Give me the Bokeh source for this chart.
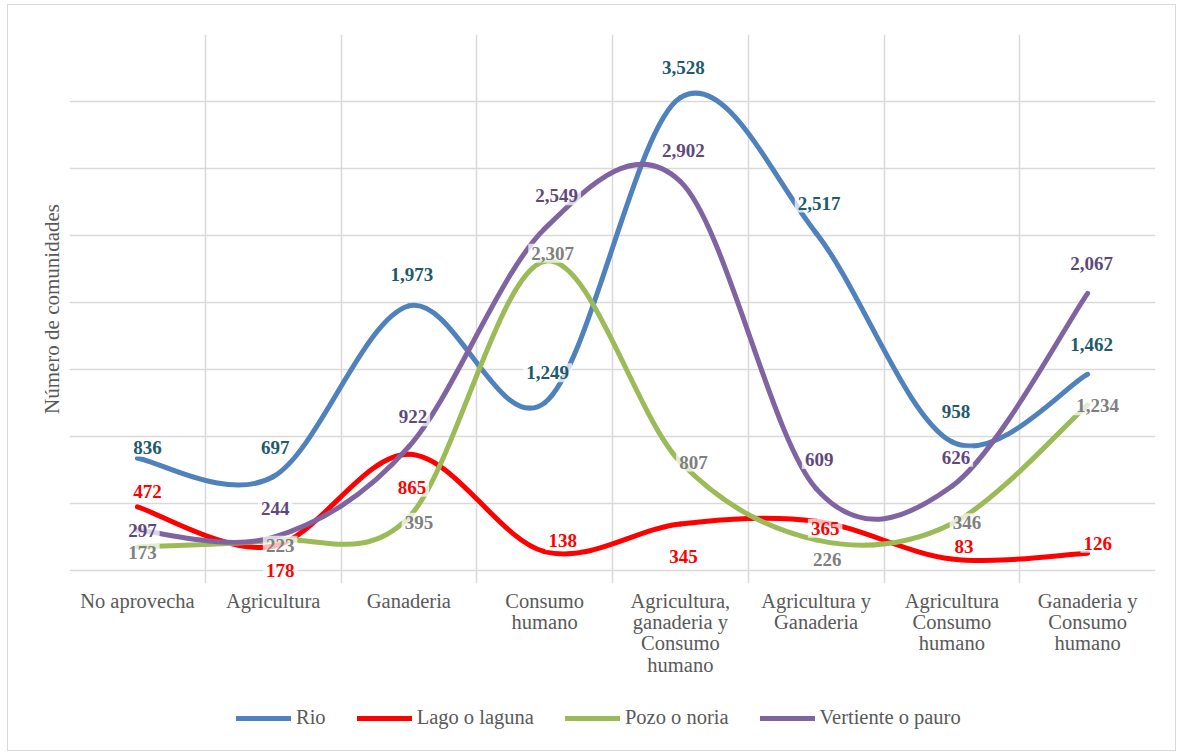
from bokeh.plotting import figure
from bokeh.layouts import column
from bokeh.models import FixedTicker, Legend, LegendItem, ColumnDataSource
from bokeh.core.properties import value
from bokeh.embed import file_html
from bokeh.resources import INLINE

# ---------------- data ----------------
categories = ["No aprovecha", "Agricultura", "Ganaderia", "Consumo humano",
              "Agricultura, ganaderia y Consumo humano", "Agricultura y Ganaderia",
              "Agricultura Consumo humano", "Ganaderia y Consumo humano"]
tick_labels = ["No aprovecha", "Agricultura", "Ganaderia", "Consumo\nhumano",
               "Agricultura,\nganaderia y\nConsumo\nhumano", "Agricultura y\nGanaderia",
               "Agricultura\nConsumo\nhumano", "Ganaderia y\nConsumo\nhumano"]
series_names = ["Rio", "Lago o laguna", "Pozo o noria", "Vertiente o pauro"]
rio = [836, 697, 1973, 1249, 3528, 2517, 958, 1462]
lago = [472, 178, 865, 138, 345, 365, 83, 126]
pozo = [173, 223, 395, 2307, 807, 226, 346, 1234]
vertiente = [297, 244, 922, 2549, 2902, 609, 626, 2067]
y_ticks = [0, 500, 1000, 1500, 2000, 2500, 3000, 3500, 4000]

# ---------------- styles ----------------
line_colors = ["#4F81BD", "#FF0000", "#9BBB59", "#8064A2"]
label_colors = ["#215A69", "#FF0000", "#7F7F7F", "#5F497A"]
# label offsets in screen pixels (dx right, dy down)
label_offsets = [
    [(10, -11), (2, -29), (3, -31), (3, -30), (3, -30), (3, -30), (4, -30), (4, -30)],
    [(10, -15), (7, 24), (3, 33), (18, -11), (3, 33), (9, 7), (12, -12), (10, -10)],
    [(5, 6), (7, 5), (10, 5), (8, -8), (13, 0), (11, 20), (15, -1), (10, 1)],
    [(5, 0), (2, -29), (4, -30), (12, -33), (3, -31), (3, -29), (4, -29), (4, -30)],
]
SERIF = "Liberation Serif"
GRID = "#d9d9d9"
TXT = "#595959"

p = figure(width=1167, height=685, x_range=(0, 8), y_range=(-100, 4000),
           output_backend="svg", toolbar_location=None,
           min_border_left=61, min_border_right=20, min_border_top=29, min_border_bottom=107,
           background_fill_color="white", border_fill_color="white")
p.outline_line_color = None

xs = [i + 0.5 for i in range(len(categories))]

def bezier_segments(vals):
    n = len(vals)
    pts = list(zip(xs, vals))
    d = dict(x0=[], y0=[], x1=[], y1=[], cx0=[], cy0=[], cx1=[], cy1=[])
    for i in range(n - 1):
        pm = pts[max(i - 1, 0)]
        p0 = pts[i]
        p1 = pts[i + 1]
        p2_ = pts[min(i + 2, n - 1)]
        d["x0"].append(p0[0]); d["y0"].append(p0[1])
        d["x1"].append(p1[0]); d["y1"].append(p1[1])
        d["cx0"].append(p0[0] + (p1[0] - pm[0]) / 6.0)
        d["cy0"].append(p0[1] + (p1[1] - pm[1]) / 6.0)
        d["cx1"].append(p1[0] - (p2_[0] - p0[0]) / 6.0)
        d["cy1"].append(p1[1] - (p2_[1] - p0[1]) / 6.0)
    return d

all_series = [rio, lago, pozo, vertiente]
sources = []
for vals, col in zip(all_series, line_colors):
    src = ColumnDataSource(bezier_segments(vals))
    sources.append(src)
    p.bezier(x0="x0", y0="y0", x1="x1", y1="y1", cx0="cx0", cy0="cy0", cx1="cx1", cy1="cy1",
             source=src, line_color=col, line_width=5, line_cap="round")

# data labels on top
for vals, col, offs in zip(all_series, label_colors, label_offsets):
    src = ColumnDataSource(dict(
        x=xs, y=vals, t=[f"{v:,}" for v in vals],
        dx=[o[0] for o in offs], dy=[o[1] for o in offs]))
    p.text(x="x", y="y", text="t", x_offset="dx", y_offset="dy", source=src,
           text_font=value(SERIF), text_font_style="bold", text_font_size="19px",
           text_color=col, text_align="center", text_baseline="middle",
           background_fill_color="white", background_fill_alpha=0.72,
           border_line_color=None, padding=3)

# axes
p.xaxis.ticker = FixedTicker(ticks=xs)
p.xaxis.major_label_overrides = {x: lab for x, lab in zip(xs, tick_labels)}
p.xaxis.major_label_text_font = SERIF
p.xaxis.major_label_text_font_size = "20.5px"
p.xaxis.major_label_text_color = TXT
p.xaxis.major_label_text_line_height = 0.97
p.xaxis.major_label_standoff = 0
p.xaxis.major_tick_line_color = None
p.xaxis.minor_tick_line_color = None
p.xaxis.axis_line_color = None

p.yaxis.ticker = FixedTicker(ticks=y_ticks)
p.yaxis.major_label_text_font_size = "0px"
p.yaxis.major_label_standoff = 0
p.yaxis.major_tick_line_color = None
p.yaxis.minor_tick_line_color = None
p.yaxis.axis_line_color = None
p.yaxis.axis_label = "Número de comunidades"
p.yaxis.axis_label_text_font = SERIF
p.yaxis.axis_label_text_font_style = "normal"
p.yaxis.axis_label_text_font_size = "21px"
p.yaxis.axis_label_text_color = TXT
p.yaxis.axis_label_standoff = 0

p.xgrid.ticker = FixedTicker(ticks=list(range(9)))
p.xgrid.bounds = (0, 4000)
p.ygrid.ticker = FixedTicker(ticks=y_ticks)
for g in (p.xgrid, p.ygrid):
    g.grid_line_color = GRID
    g.grid_line_width = 1.5

# ---------------- legend strip ----------------
p2 = figure(width=1167, height=60, x_range=(0, 1), y_range=(10000, 10001),
            output_backend="svg", toolbar_location=None, min_border=0,
            x_axis_type=None, y_axis_type=None,
            background_fill_color="white", border_fill_color="white")
p2.outline_line_color = None
p2.grid.visible = False
legend_items = []
for src, col, name in zip(sources, line_colors, series_names):
    r = p2.bezier(x0="x0", y0="y0", x1="x1", y1="y1", cx0="cx0", cy0="cy0", cx1="cx1", cy1="cy1",
                  source=src, line_color=col, line_width=5, line_cap="round")
    legend_items.append(LegendItem(label=name, renderers=[r], index=0))

legend = Legend(items=legend_items, orientation="horizontal", location=(167, 21),
                glyph_width=55, glyph_height=20, label_standoff=5, spacing=31,
                label_text_font=SERIF, label_text_font_size="20.5px", label_text_color=TXT,
                border_line_color=None, background_fill_alpha=0, margin=0, padding=5)
p2.add_layout(legend, "center")

layout = column(p, p2, spacing=0,
                styles={"border": "1px solid #d9d9d9", "margin-left": "7px", "margin-top": "4px"})
open("out.html", "w").write(file_html(layout, INLINE))
